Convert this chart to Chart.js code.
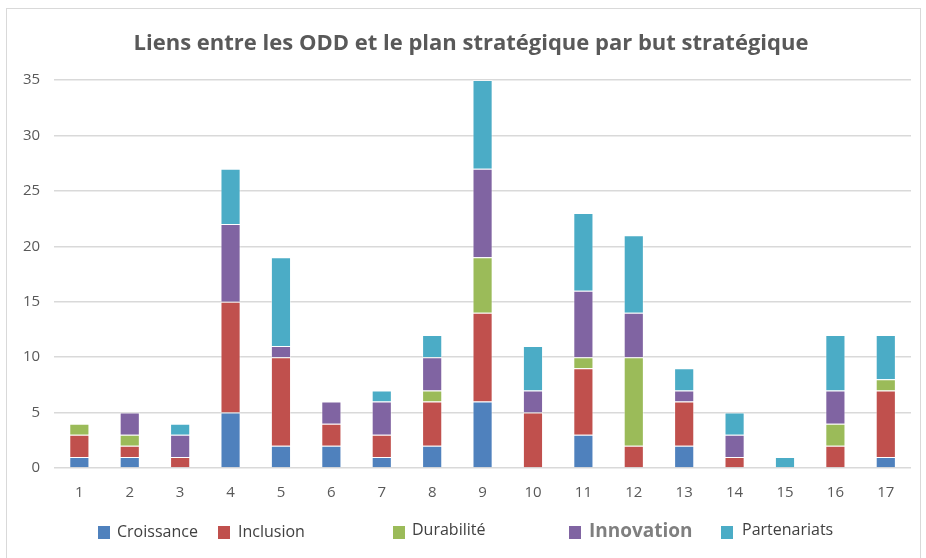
<!DOCTYPE html>
<html>
<head>
<meta charset="utf-8">
<script src="https://cdn.jsdelivr.net/npm/chart.js@4.4.0/dist/chart.umd.min.js"></script>
<style>
  html, body { margin: 0; padding: 0; background: #fff; }
  #wrap { width: 926px; height: 558px; }
</style>
</head>
<body>
<div id="wrap"><canvas id="myChart" width="926" height="558"></canvas></div>
<script>
// ODD numbers on the x axis
const categories = ["1","2","3","4","5","6","7","8","9","10","11","12","13","14","15","16","17"];

// links per strategic goal
const croissance   = [1, 1, 0, 5, 2, 2, 1, 2, 6, 0, 3, 0, 2, 0, 0, 0, 1];
const inclusion    = [2, 1, 1, 10, 8, 2, 2, 4, 8, 5, 6, 2, 4, 1, 0, 2, 6];
const durabilite   = [1, 1, 0, 0, 0, 0, 0, 1, 5, 0, 1, 8, 0, 0, 0, 2, 1];
const innovation   = [0, 2, 2, 7, 1, 2, 3, 3, 8, 2, 6, 4, 1, 2, 0, 3, 0];
const partenariats = [0, 0, 1, 5, 8, 0, 1, 2, 8, 4, 7, 7, 2, 2, 1, 5, 4];

const yTicks = [0, 5, 10, 15, 20, 25, 30, 35];

const chartTitle = "Liens entre les ODD et le plan stratégique par but stratégique";
const seriesNames = ["Croissance", "Inclusion", "Durabilité", "Innovation", "Partenariats"];
const seriesColors = ["#4F81BD", "#C0504D", "#9BBB59", "#8064A2", "#4BACC6"];
const seriesData = [croissance, inclusion, durabilite, innovation, partenariats];

const FONT = "'Open Sans', 'Liberation Sans', sans-serif";

// frame, title and hand placed legend (the original legend is unevenly spaced,
// and the title sits centred on the frame rather than on the canvas)
const frameAndLegend = {
  id: "frameAndLegend",
  beforeDraw(chart) {
    const ctx = chart.ctx;
    ctx.save();
    ctx.strokeStyle = "#d9d9d9";
    ctx.lineWidth = 1;
    ctx.strokeRect(6.5, 8.5, 914, 570);
    ctx.restore();
  },
  afterDraw(chart) {
    const ctx = chart.ctx;
    ctx.save();
    ctx.fillStyle = "#595959";
    ctx.font = "bold 22px " + FONT;
    ctx.textAlign = "center";
    ctx.textBaseline = "middle";
    ctx.fillText(chartTitle, 471, 44);

    const items = [
      { sq: 98,  tx: 117, font: "16px " + FONT, color: "#404040", y: 532 },
      { sq: 218, tx: 238, font: "16px " + FONT, color: "#404040", y: 532 },
      { sq: 393, tx: 412, font: "16px " + FONT, color: "#404040", y: 530 },
      { sq: 569, tx: 589, font: "bold 19px " + FONT, color: "#7f7f7f", y: 532 },
      { sq: 721, tx: 742, font: "16px " + FONT, color: "#404040", y: 530 }
    ];
    ctx.textAlign = "left";
    items.forEach((it, i) => {
      ctx.fillStyle = seriesColors[i];
      ctx.fillRect(it.sq, 526, 12, 13);
      ctx.fillStyle = it.color;
      ctx.font = it.font;
      ctx.fillText(seriesNames[i], it.tx, it.y);
    });
    ctx.restore();
  }
};

new Chart("myChart", {
  type: "bar",
  data: {
    labels: categories,
    datasets: seriesData.map((d, i) => ({
      label: seriesNames[i],
      data: d,
      backgroundColor: seriesColors[i],
      borderColor: "rgba(255,255,255,0.45)",
      borderWidth: 1,
      barPercentage: 0.4,
      categoryPercentage: 1.0
    }))
  },
  options: {
    responsive: false,
    animation: false,
    layout: { padding: { top: 80, left: 9, right: 15, bottom: 48 } },
    plugins: {
      legend: { display: false },
      tooltip: { enabled: false },
      title: { display: false }
    },
    scales: {
      x: {
        stacked: true,
        grid: { display: false },
        border: { display: false },
        ticks: { color: "#595959", font: { family: FONT, size: 15 }, padding: 8 }
      },
      y: {
        stacked: true,
        min: 0,
        max: 35,
        afterBuildTicks(scale) { scale.ticks = yTicks.map(v => ({ value: v })); },
        grid: { color: "#d9d9d9", lineWidth: 1.5, drawTicks: false },
        border: { display: false },
        ticks: { color: "#595959", font: { family: FONT, size: 15 }, padding: 14 }
      }
    }
  },
  plugins: [frameAndLegend]
});
</script>
</body>
</html>
